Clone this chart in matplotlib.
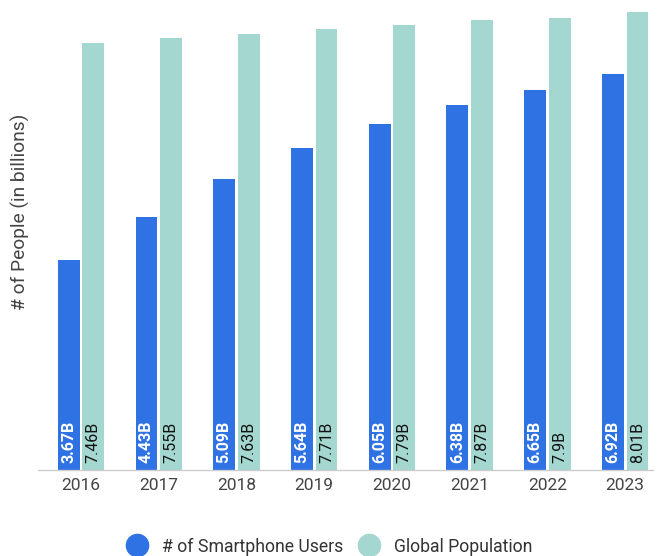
import numpy as np
import matplotlib
matplotlib.use('Agg')
from matplotlib import pyplot as plt
from matplotlib.lines import Line2D

plt.rcParams['font.family'] = ['Roboto', 'DejaVu Sans']

years = ['2016', '2017', '2018', '2019', '2020', '2021', '2022', '2023']
smartphone_users = [3.67, 4.43, 5.09, 5.64, 6.05, 6.38, 6.65, 6.92]
global_population = [7.46, 7.55, 7.63, 7.71, 7.79, 7.87, 7.9, 8.01]
users_labels = ['3.67B', '4.43B', '5.09B', '5.64B', '6.05B', '6.38B', '6.65B', '6.92B']
pop_labels = ['7.46B', '7.55B', '7.63B', '7.71B', '7.79B', '7.87B', '7.9B', '8.01B']

blue = '#2F72E3'
green = '#A3D7CF'

fig = plt.figure(figsize=(6.58, 5.56), dpi=100)
ax = fig.add_axes([0.058, 0.1547, 0.934, 0.8453])

x = np.arange(len(years))
w = 0.28
off = 0.158
ax.bar(x - off, smartphone_users, w, color=blue)
ax.bar(x + off, global_population, w, color=green)

# value labels sit at the foot of each bar, turned upright
for i in range(len(years)):
    ax.text(x[i] - off, 0.12, users_labels[i], rotation=90, ha='center', va='bottom',
            color='white', fontsize=11.5, fontweight='bold')
    ax.text(x[i] + off, 0.12, pop_labels[i], rotation=90, ha='center', va='bottom',
            color='#111111', fontsize=11.5)

ax.set_xlim(-0.55, 7.355)
ax.set_ylim(0, 8.22)
ax.set_xticks(x)
ax.set_xticklabels(years, fontsize=12.5, color='#444444')
ax.tick_params(axis='x', length=0, pad=6)
ax.set_yticks([])
for side in ['top', 'right', 'left']:
    ax.spines[side].set_visible(False)
ax.spines['bottom'].set_color('#cccccc')
ax.spines['bottom'].set_linewidth(1)

fig.text(0.031, 0.619, '# of People (in billions)', rotation=90, ha='center', va='center',
         fontsize=13.8, color='#444444')

handles = [Line2D([], [], marker='o', linestyle='', markersize=16, color=blue),
           Line2D([], [], marker='o', linestyle='', markersize=16, color=green)]
fig.legend(handles, ['# of Smartphone Users', 'Global Population'], loc='center',
           bbox_to_anchor=(0.502, 0.017), ncol=2, frameon=False, fontsize=12.7,
           handlelength=1, handletextpad=0.9, columnspacing=1.0, labelcolor='#333333')

fig.savefig('out.png', dpi=100)
